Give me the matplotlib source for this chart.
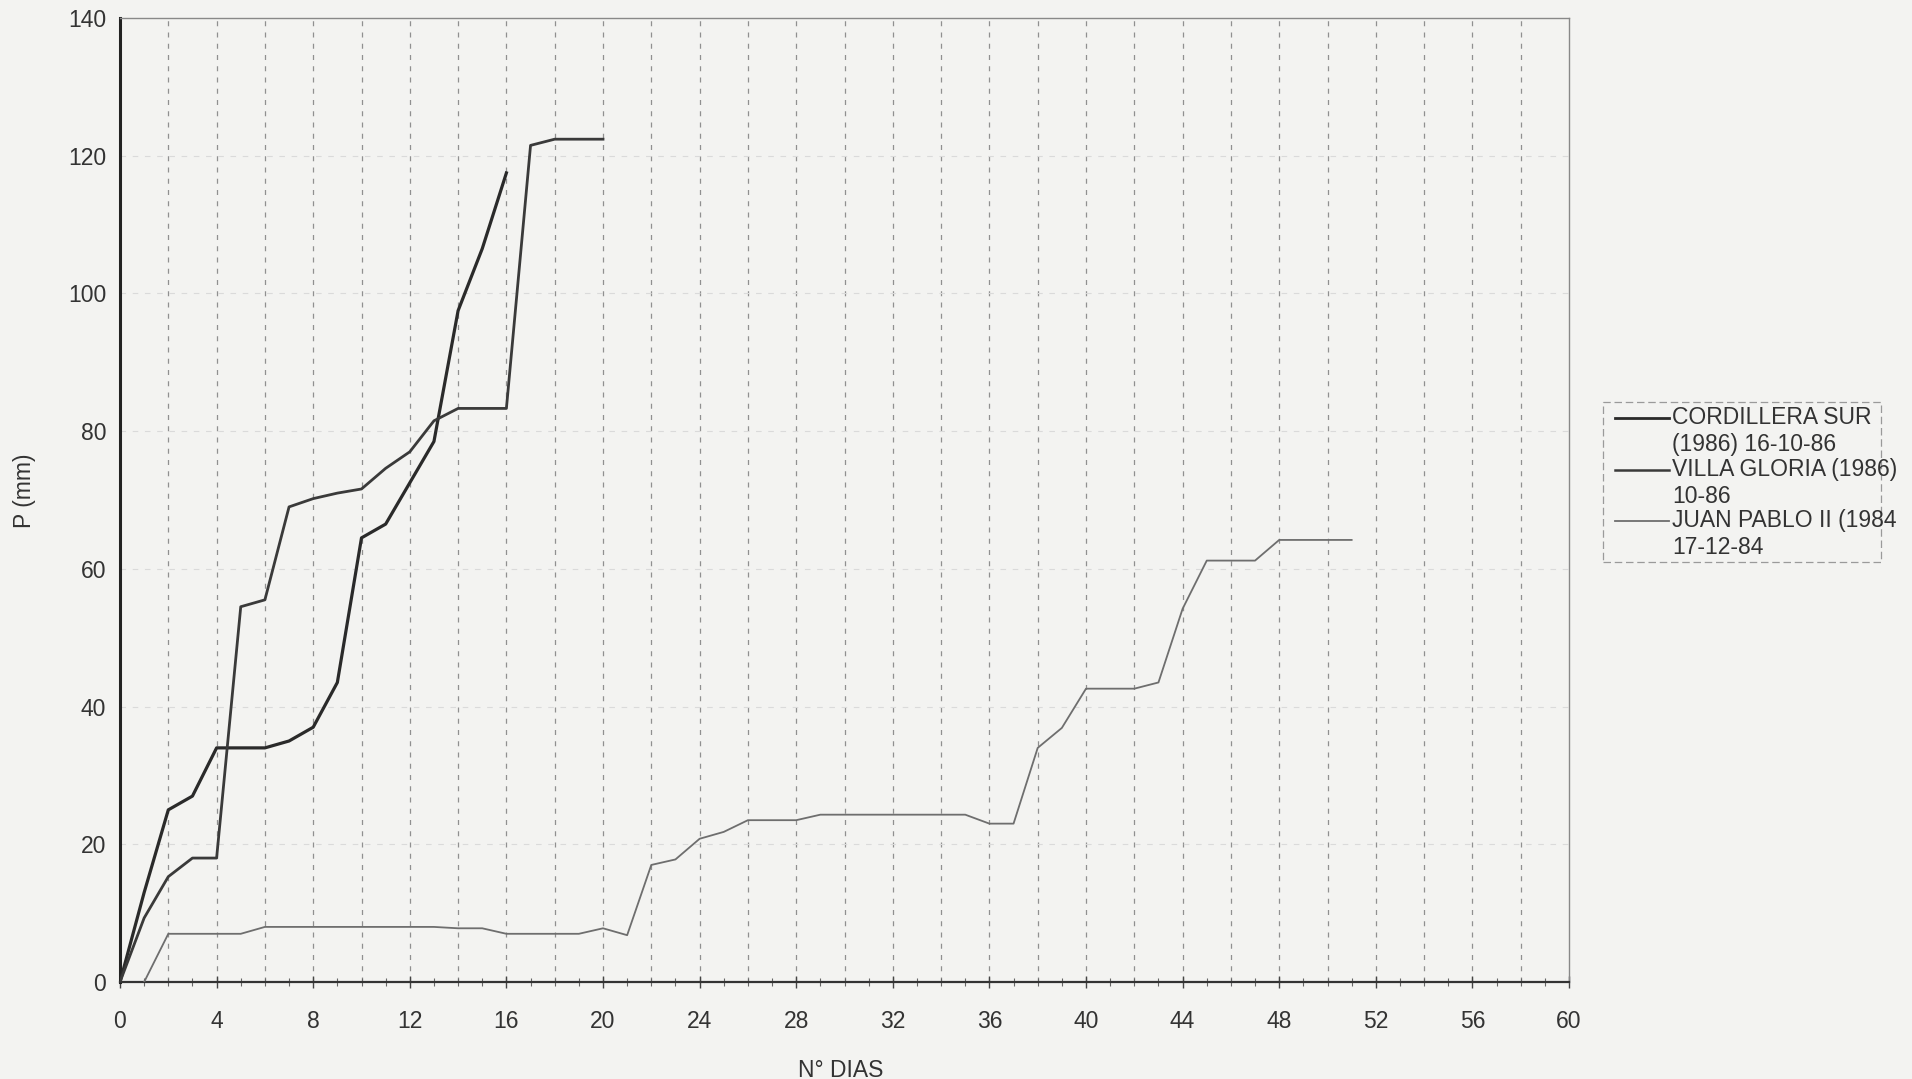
import matplotlib
matplotlib.use("Agg")
import matplotlib.pyplot as plt
from matplotlib.lines import Line2D
from matplotlib.patches import Rectangle
from matplotlib.ticker import MultipleLocator

plt.rcParams['font.family'] = ['Liberation Sans', 'DejaVu Sans']

# ---- data ----
days_cordillera = list(range(0, 17))
p_cordillera = [0, 13, 25, 27, 34, 34, 34, 35, 37, 43.5, 64.5, 66.5, 72.5,
                78.5, 97.5, 106.5, 117.5]

days_villa = list(range(0, 21))
p_villa = [0, 9.3, 15.3, 18, 18, 54.5, 55.5, 69, 70.2, 71, 71.6, 74.6, 77,
           81.5, 83.3, 83.3, 83.3, 121.5, 122.4, 122.4, 122.4]

days_juan = list(range(1, 52))
p_juan = [0, 7, 7, 7, 7, 8, 8, 8, 8, 8, 8, 8, 8, 7.8, 7.8, 7, 7, 7, 7, 7.8,
          6.8, 17, 17.8, 20.8, 21.8, 23.5, 23.5, 23.5, 24.3, 24.3, 24.3, 24.3,
          24.3, 24.3, 24.3, 23, 23, 34, 36.9, 42.6, 42.6, 42.6, 43.5, 54.2,
          61.2, 61.2, 61.2, 64.2, 64.2, 64.2, 64.2]

labels = ["CORDILLERA SUR\n(1986) 16-10-86",
          "VILLA GLORIA (1986)\n10-86",
          "JUAN PABLO II (1984\n17-12-84"]
x_ticks = list(range(0, 61, 4))
y_ticks = list(range(0, 141, 20))

FS = 16.5

# ---- figure ----
W, H = 1912, 1079
fig = plt.figure(figsize=(W / 100, H / 100), dpi=100, facecolor='#f3f3f1')
ax = fig.add_axes([120 / W, 1 - 982 / H, (1569 - 120) / W, (982 - 18) / H])
ax.set_facecolor('#f3f3f1')

ax.set_xlim(0, 60)
ax.set_ylim(0, 140)

# grid
for gx in range(2, 60, 2):
    ax.axvline(gx, color='#909090', lw=0.9, ls=(0, (4, 5)), zorder=1)
for gy in range(20, 140, 20):
    ax.axhline(gy, color='#dadada', lw=0.8, ls=(0, (5, 6)), zorder=1)

ax.plot(days_cordillera, p_cordillera, color='#2a2a2a', lw=2.3, zorder=3)
ax.plot(days_villa, p_villa, color='#3a3a3a', lw=2.0, zorder=3)
ax.plot(days_juan, p_juan, color='#6e6e6e', lw=1.3, zorder=3)

ax.set_xticks(x_ticks)
ax.set_yticks(y_ticks)
ax.xaxis.set_minor_locator(MultipleLocator(1))
ax.tick_params(axis='x', which='major', direction='inout', length=9, width=1,
               color='#444', pad=16, labelsize=FS, labelcolor='#333')
ax.tick_params(axis='x', which='minor', direction='inout', length=6, width=0.8,
               color='#666')
ax.tick_params(axis='y', which='both', length=0, pad=10, labelsize=FS,
               labelcolor='#333')

for s in ['top', 'right']:
    ax.spines[s].set_color('#888')
    ax.spines[s].set_linewidth(1.0)
ax.spines['left'].set_color('#222')
ax.spines['left'].set_linewidth(2.2)
ax.spines['bottom'].set_color('#333')
ax.spines['bottom'].set_linewidth(1.6)

ax.set_ylabel('P (mm)', fontsize=FS, color='#333')
ax.yaxis.set_label_coords(-0.066, 0.51)
ax.set_xlabel('N° DIAS', fontsize=FS, color='#333')
ax.xaxis.set_label_coords(0.4976, -0.092)
ax.xaxis.label.set_va('center')
ax.yaxis.label.set_va('center')

# ---- manual legend (Excel-like: handle aligned with first text line) ----
def fx(x):
    return x / W

def fy(y):
    return 1 - y / H

fig.patches.append(Rectangle((fx(1603), fy(562)), fx(1881) - fx(1603),
                             fy(402) - fy(562), transform=fig.transFigure,
                             facecolor='none', edgecolor='#9a9a9a', lw=0.9,
                             ls=(0, (6, 3))))
handle_colors = ['#2a2a2a', '#3a3a3a', '#6e6e6e']
handle_lw = [2.0, 1.8, 1.3]
first_line_y = [418, 470, 521]
for lab, c, lw, yy in zip(labels, handle_colors, handle_lw, first_line_y):
    fig.lines.append(Line2D([fx(1615), fx(1669)], [fy(yy), fy(yy)],
                            transform=fig.transFigure, color=c, lw=lw))
    fig.text(fx(1672), fy(yy - 12), lab, fontsize=FS, color='#333',
             va='top', ha='left', linespacing=1.22,
             transform=fig.transFigure)

fig.savefig('out.png', dpi=100, facecolor=fig.get_facecolor())
